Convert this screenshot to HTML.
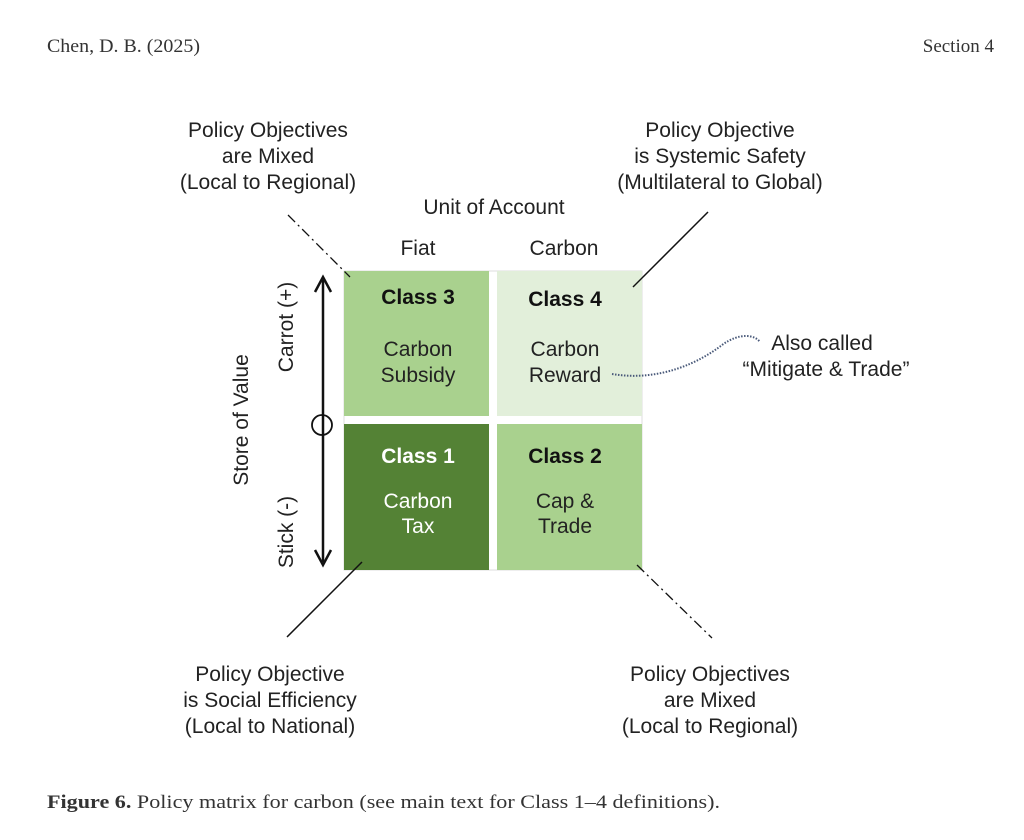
<!DOCTYPE html>
<html><head><meta charset="utf-8"><style>
html,body{margin:0;padding:0;background:#fff;}
svg{display:block}
.s{font-family:"Liberation Sans",sans-serif;font-size:21px;fill:#222}
.r{font-family:"Liberation Serif",serif;font-size:19px;fill:#333}
.b{font-family:"Liberation Sans",sans-serif;font-size:21px;font-weight:bold}
</style></head><body>
<svg width="1024" height="840" viewBox="0 0 1024 840">
<text class="r" x="47" y="52" textLength="153" lengthAdjust="spacingAndGlyphs">Chen, D. B. (2025)</text>
<text class="r" x="994" y="52" text-anchor="end">Section 4</text>

<g class="s" text-anchor="middle">
<text x="268" y="137">Policy Objectives</text>
<text x="268" y="163">are Mixed</text>
<text x="268" y="189">(Local to Regional)</text>
<text x="720" y="137">Policy Objective</text>
<text x="720" y="163">is Systemic Safety</text>
<text x="720" y="189">(Multilateral to Global)</text>
<text x="494" y="214">Unit of Account</text>
<text x="418" y="255">Fiat</text>
<text x="564" y="255">Carbon</text>
<text x="270" y="681">Policy Objective</text>
<text x="270" y="707">is Social Efficiency</text>
<text x="270" y="733">(Local to National)</text>
<text x="710" y="681">Policy Objectives</text>
<text x="710" y="707">are Mixed</text>
<text x="710" y="733">(Local to Regional)</text>
<text x="822" y="350">Also called</text>
<text x="826" y="376">“Mitigate &amp; Trade”</text>
</g>

<rect x="344" y="271" width="298" height="299" fill="#fff" stroke="#ddd"/>
<rect x="344" y="271" width="145" height="145" fill="#a9d18e"/>
<rect x="497" y="271" width="145" height="145" fill="#e2efda"/>
<rect x="344" y="424" width="145" height="146" fill="#548235"/>
<rect x="497" y="424" width="145" height="146" fill="#a9d18e"/>

<g text-anchor="middle">
<text class="b" x="418" y="304" fill="#111">Class 3</text>
<text class="s" x="418" y="356">Carbon</text>
<text class="s" x="418" y="382">Subsidy</text>
<text class="b" x="565" y="306" fill="#111">Class 4</text>
<text class="s" x="565" y="356">Carbon</text>
<text class="s" x="565" y="382">Reward</text>
<text class="b" x="418" y="463" fill="#fff">Class 1</text>
<text class="s" x="418" y="508" style="fill:#fff">Carbon</text>
<text class="s" x="418" y="533" style="fill:#fff">Tax</text>
<text class="b" x="565" y="463" fill="#111">Class 2</text>
<text class="s" x="565" y="508">Cap &amp;</text>
<text class="s" x="565" y="533">Trade</text>
</g>

<path d="M612 374 C660 382 700 362 722 345 C740 332 755 335 760 342" fill="none" stroke="#4a5a7a" stroke-width="2" stroke-dasharray="1.5 1.5"/>

<line x1="288" y1="215" x2="350" y2="277" stroke="#111" stroke-width="1.3" stroke-dasharray="10 4 2 4"/>
<line x1="708" y1="212" x2="633" y2="287" stroke="#111" stroke-width="1.5"/>
<line x1="287" y1="637" x2="362" y2="562" stroke="#111" stroke-width="1.5"/>
<line x1="637" y1="565" x2="712" y2="638" stroke="#111" stroke-width="1.3" stroke-dasharray="10 4 2 4"/>

<line x1="323" y1="280" x2="323" y2="562" stroke="#111" stroke-width="2.5"/>
<path d="M315 292 L323 277 L331 292" fill="none" stroke="#111" stroke-width="2.5"/>
<path d="M315 550 L323 565 L331 550" fill="none" stroke="#111" stroke-width="2.5"/>
<circle cx="322" cy="425" r="10" fill="none" stroke="#111" stroke-width="1.8"/>

<g class="s">
<text transform="translate(248,420) rotate(-90)" text-anchor="middle">Store of Value</text>
<text transform="translate(293,327) rotate(-90)" text-anchor="middle">Carrot (+)</text>
<text transform="translate(293,532) rotate(-90)" text-anchor="middle">Stick (-)</text>
</g>

<text class="r" x="47" y="808" textLength="673" lengthAdjust="spacingAndGlyphs"><tspan font-weight="bold">Figure 6.</tspan> Policy matrix for carbon (see main text for Class 1–4 definitions).</text>
</svg>
</body></html>
